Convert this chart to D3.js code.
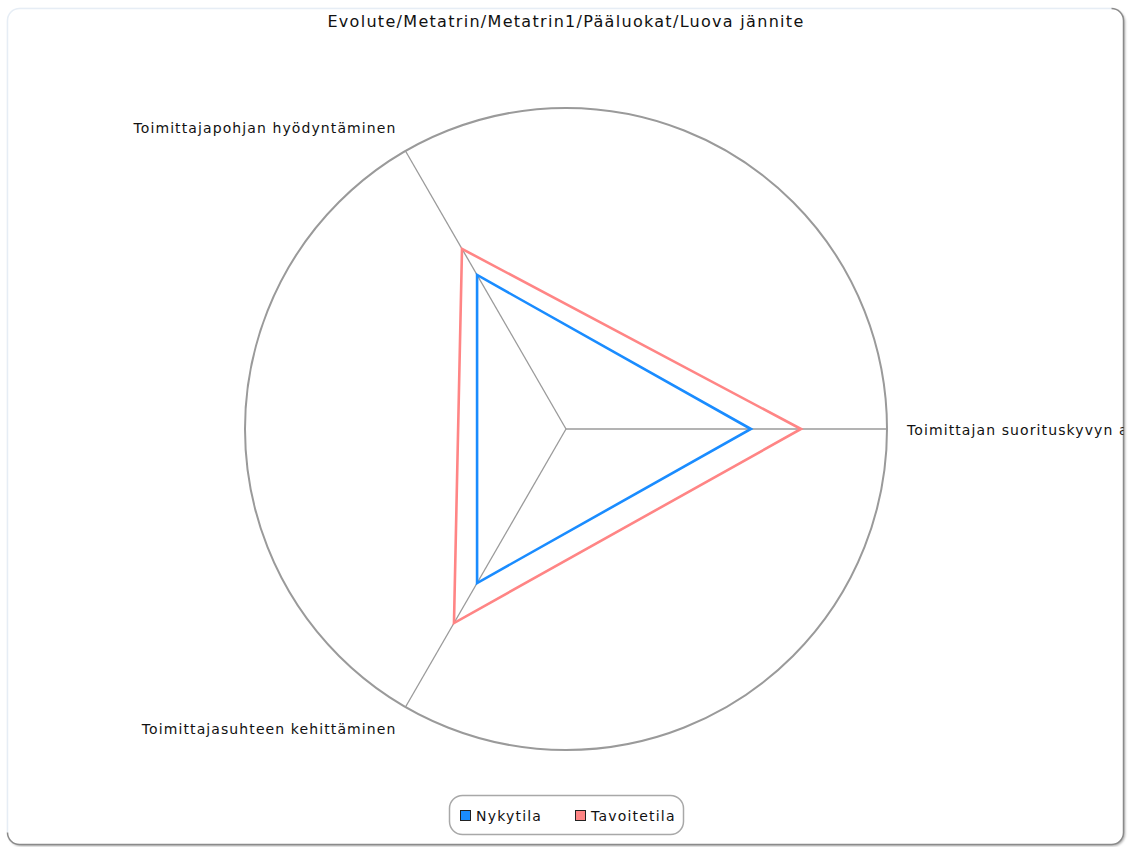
<!DOCTYPE html>
<html>
<head>
<meta charset="utf-8">
<script src="https://cdn.jsdelivr.net/npm/d3@7"></script>
<style>
  html, body { margin: 0; padding: 0; background: #fff; }
  svg { display: block; }
  text { font-family: "DejaVu Sans", Verdana, sans-serif; fill: #111; }
</style>
</head>
<body>
<svg id="chart" width="1129" height="847"></svg>
<script>
// Chart content
const title = "Evolute/Metatrin/Metatrin1/Pääluokat/Luova jännite";
const axes = [
  "Toimittajan suorituskyvyn arviointi",
  "Toimittajapohjan hyödyntäminen",
  "Toimittajasuhteen kehittäminen"
];
const seriesNames = ["Nykytila", "Tavoitetila"];
const nykytila = [57.6, 55.4, 55.4];
const tavoitetila = [73.2, 64.8, 69.8];
const seriesColors = ["#1a8cff", "#ff8585"];
const scaleMax = 100;

const svg = d3.select("#chart");

// Card frame
const defs = svg.append("defs");
const shadow = defs.append("filter").attr("id", "shadow")
  .attr("x", "-5%").attr("y", "-5%").attr("width", "110%").attr("height", "110%");
shadow.append("feDropShadow").attr("dx", 1.5).attr("dy", 1.5)
  .attr("stdDeviation", 1.2).attr("flood-color", "#000").attr("flood-opacity", 0.35);

const frame = { x: 7.5, y: 8.5, w: 1116, h: 836, r: 12 };
defs.append("clipPath").attr("id", "frameClip")
  .append("rect").attr("x", frame.x).attr("y", frame.y)
  .attr("width", frame.w).attr("height", frame.h).attr("rx", frame.r);

svg.append("rect")
  .attr("x", frame.x).attr("y", frame.y).attr("width", frame.w).attr("height", frame.h)
  .attr("rx", frame.r).attr("fill", "#fff").attr("filter", "url(#shadow)");
// light top/left edge, darker bottom/right edge
svg.append("path")
  .attr("d", `M${frame.x},${frame.y + frame.h - frame.r} V${frame.y + frame.r} A${frame.r},${frame.r} 0 0 1 ${frame.x + frame.r},${frame.y} H${frame.x + frame.w - frame.r}`)
  .attr("fill", "none").attr("stroke", "#e6edf5").attr("stroke-width", 1.5);
svg.append("path")
  .attr("d", `M${frame.x + frame.w - frame.r},${frame.y} A${frame.r},${frame.r} 0 0 1 ${frame.x + frame.w},${frame.y + frame.r} V${frame.y + frame.h - frame.r} A${frame.r},${frame.r} 0 0 1 ${frame.x + frame.w - frame.r},${frame.y + frame.h} H${frame.x + frame.r} A${frame.r},${frame.r} 0 0 1 ${frame.x},${frame.y + frame.h - frame.r}`)
  .attr("fill", "none").attr("stroke", "#8a8a8a").attr("stroke-width", 1.5);

const g = svg.append("g").attr("clip-path", "url(#frameClip)");

// Title
g.append("text")
  .attr("x", 566).attr("y", 27)
  .attr("text-anchor", "middle")
  .style("font-size", "16px")
  .style("letter-spacing", "1.3px")
  .text(title);

// Radar geometry
const cx = 566, cy = 429, R = 321;
const angle = d3.scaleLinear().domain([0, axes.length]).range([0, -2 * Math.PI]);
const r = d3.scaleLinear().domain([0, scaleMax]).range([0, R]);
const pt = (i, v) => [cx + r(v) * Math.cos(angle(i)), cy + r(v) * Math.sin(angle(i))];

// Outer ring
g.append("circle").attr("cx", cx).attr("cy", cy).attr("r", R)
  .attr("fill", "none").attr("stroke", "#9a9a9a").attr("stroke-width", 2);

// Spokes
g.selectAll("line.spoke").data(axes).join("line")
  .attr("class", "spoke")
  .attr("x1", cx).attr("y1", cy)
  .attr("x2", (d, i) => pt(i, scaleMax)[0])
  .attr("y2", (d, i) => pt(i, scaleMax)[1])
  .attr("stroke", "#9a9a9a").attr("stroke-width", 1.3);

// Axis labels
g.selectAll("text.axis").data(axes).join("text")
  .attr("class", "axis")
  .style("font-size", "14px")
  .style("letter-spacing", "1.1px")
  .each(function (d, i) {
    const [x, y] = pt(i, scaleMax);
    const c = Math.cos(angle(i)), s = Math.sin(angle(i));
    const sel = d3.select(this);
    if (c > 0.5) {
      sel.attr("x", x + 20).attr("y", y + 6).attr("text-anchor", "start");
    } else {
      sel.attr("x", x - 9).attr("y", y + (s < 0 ? -18 : 27)).attr("text-anchor", "end");
    }
  })
  .text(d => d);

// Series polygons
const line = d3.line().curve(d3.curveLinearClosed);
const series = [nykytila, tavoitetila];
g.selectAll("path.series").data(series).join("path")
  .attr("class", "series")
  .attr("d", vals => line(vals.map((v, i) => pt(i, v))))
  .attr("fill", "none")
  .attr("stroke", (d, i) => seriesColors[i])
  .attr("stroke-width", 2.6)
  .attr("stroke-linejoin", "miter");

// Legend
const legend = g.append("g");
legend.append("rect")
  .attr("x", 449.5).attr("y", 795.5).attr("width", 234).attr("height", 39)
  .attr("rx", 13).attr("fill", "#fff").attr("stroke", "#a8a8a8").attr("stroke-width", 1.5);
const legendX = [460, 575];
seriesNames.forEach((name, i) => {
  legend.append("rect")
    .attr("x", legendX[i] + 0.5).attr("y", 810.5).attr("width", 10).attr("height", 10)
    .attr("fill", seriesColors[i]).attr("stroke", "#222").attr("stroke-width", 1);
  legend.append("text")
    .attr("x", legendX[i] + 16).attr("y", 821)
    .style("font-size", "14px")
    .style("letter-spacing", "1.2px")
    .text(name);
});
</script>
</body>
</html>
